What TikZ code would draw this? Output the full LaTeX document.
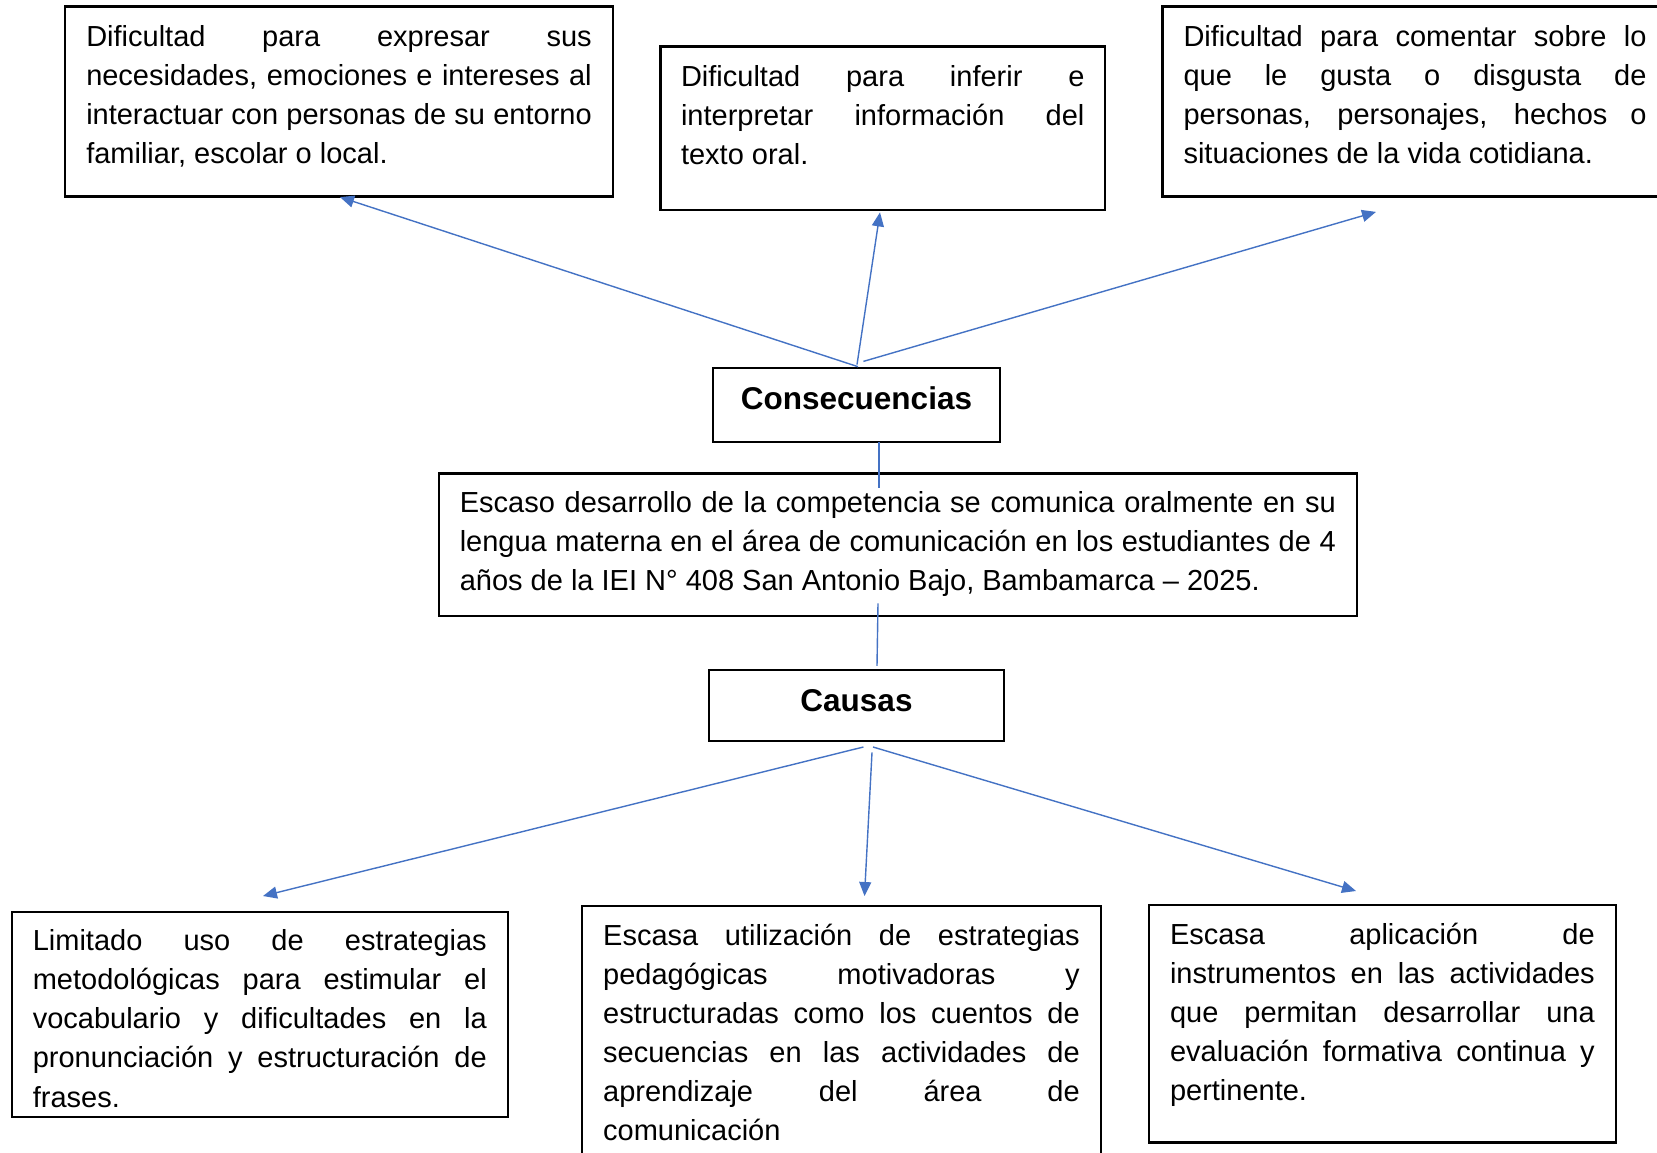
\documentclass[tikz,border=0pt]{standalone}
\usepackage{fontspec}
\setmainfont{Liberation Sans}
\usetikzlibrary{arrows.meta,calc}
\newcommand\jl[1]{\noindent\makebox[\linewidth][s]{\strut#1}\par}
\newcommand\lastl[1]{\noindent\strut#1\par}
\newcommand\boxtext[4]{\parbox[c][#1pt][t]{#2pt}{\fontsize{29}{39.1}\selectfont\vspace*{#3pt}#4}}
\newcommand\titletext[4]{\parbox[c][#1pt][t]{#2pt}{\centering\fontsize{31.5}{38.5}\selectfont\bfseries\vspace*{#3pt}\strut#4\par}}
\begin{document}
\begin{tikzpicture}[x=1pt,y=-1pt,
  box/.style={draw=black, line width=2.2pt, inner sep=0pt, outer sep=0pt},
  conn/.style={draw=blue1, line width=1.4pt},
  arr/.style={conn, -{Triangle[length=14pt,width=12pt]}}]
\definecolor{blue1}{HTML}{4472C4}
\useasboundingbox[fill=white] (0,0) rectangle (1657,1153);

% consequences
\node[box, minimum width=548pt] (tl) at (339,101.5)
  {\boxtext{190}{505.5}{12.65}{%
   \jl{Dificultad para expresar sus}
   \jl{necesidades, emociones e intereses al}
   \jl{interactuar con personas de su entorno}
   \lastl{familiar, escolar o local.}}};
\node[box, minimum width=444.5pt] (tm) at (882.75,128.25)
  {\boxtext{163.5}{403.4}{12.15}{%
   \jl{Dificultad para inferir e}
   \jl{interpretar información del}
   \lastl{texto oral.}}};
\node[box, minimum width=505pt] (tr) at (1415,101.5)
  {\boxtext{190}{463}{12.65}{%
   \jl{Dificultad para comentar sobre lo}
   \jl{que le gusta o disgusta de}
   \jl{personas, personajes, hechos o}
   \lastl{situaciones de la vida cotidiana.}}};

\node[box, minimum width=287pt] (conse) at (856.5,404.85)
  {\titletext{73.7}{287}{14.55}{Consecuencias}};

% problem
\node[box, minimum width=918.4pt] (prob) at (897.8,544.7)
  {\boxtext{142.6}{876}{11.25}{%
   \jl{Escaso desarrollo de la competencia se comunica oralmente en su}
   \jl{lengua materna en el área de comunicación en los estudiantes de 4}
   \lastl{años de la IEI N° 408 San Antonio Bajo, Bambamarca – 2025.}}};

\node[box, minimum width=295pt] (causas) at (856.5,705.5)
  {\titletext{71}{295}{14.75}{Causas}};

% causes
\node[box, minimum width=496.4pt] (bl) at (259.8,1014.5)
  {\boxtext{205}{454}{11.25}{%
   \jl{Limitado uso de estrategias}
   \jl{metodológicas para estimular el}
   \jl{vocabulario y dificultades en la}
   \jl{pronunciación y estructuración de}
   \lastl{frases.}}};
\node[box, minimum width=519pt] (bm) at (841.5,1037.85)
  {\boxtext{264.3}{476.6}{11.95}{%
   \jl{Escasa utilización de estrategias}
   \jl{pedagógicas motivadoras y}
   \jl{estructuradas como los cuentos de}
   \jl{secuencias en las actividades de}
   \jl{aprendizaje del área de}
   \lastl{comunicación}}};
\node[box, minimum width=467.3pt] (br) at (1382.35,1023.5)
  {\boxtext{237.8}{424.7}{12.05}{%
   \jl{Escasa aplicación de}
   \jl{instrumentos en las actividades}
   \jl{que permitan desarrollar una}
   \jl{evaluación formativa continua y}
   \lastl{pertinente.}}};

% connectors
\draw[arr] ($(conse.north)+(1.5,-1.3)$) -- ($(tl.south)+(1,0.6)$);
\draw[arr] ($(conse.north)+(0.5,-3.4)$) -- ($(tm.south)+(-2.75,2.4)$);
\draw[arr] ($(conse.north)+(6.9,-6.6)$) -- ($(tr.south)+(-39,15.4)$);
\draw[conn] ($(conse.south)+(22.5,0)$) -- ($(prob.north)+(-18.8,14.6)$);
\draw[conn] ($(prob.south)+(-19.8,-12.6)$) -- ($(causas.north)+(20.5,-4.2)$);
\draw[arr] ($(causas.south)+(6.9,6)$) -- ($(bl.north)+(3.2,-16)$);
\draw[arr] ($(causas.south)+(15.5,11.4)$) -- ($(bm.north)+(23,-9.7)$);
\draw[arr] ($(causas.south)+(16.5,6)$) -- ($(br.north)+(-26.35,-13.6)$);
\end{tikzpicture}
\end{document}
